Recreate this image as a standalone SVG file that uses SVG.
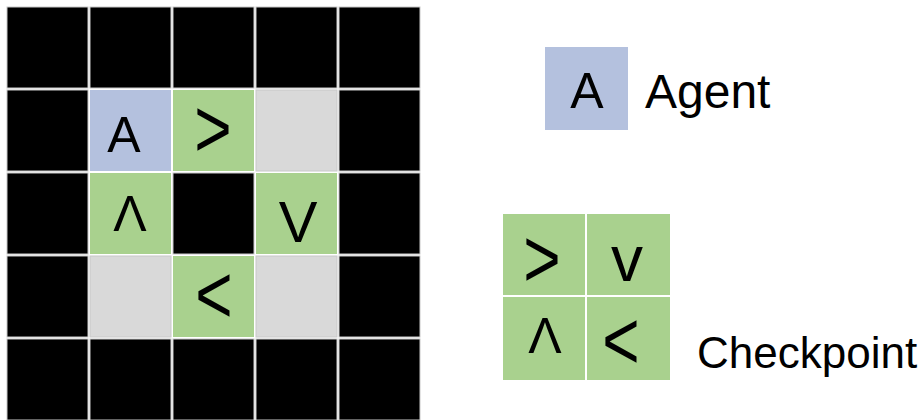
<svg xmlns="http://www.w3.org/2000/svg" width="920" height="420" viewBox="0 0 920 420">
<style>
.k{fill:#000}
.b{fill:#b4c1de}
.g{fill:#a9d18e}
.e{fill:#d9d9d9}
rect.c{stroke:#c8c8c8;stroke-width:1}
text{font-family:"Liberation Sans","DejaVu Sans",sans-serif;fill:#000;text-anchor:middle}
.s{font-size:64px;dominant-baseline:central}
.u{font-size:50px}
.lbl{font-size:48px;text-anchor:start}
</style>
<rect width="920" height="420" fill="#fff"/>
<g id="grid">
<rect class="c k" x="7" y="7" width="81" height="81"/>
<rect class="c k" x="90" y="7" width="81" height="81"/>
<rect class="c k" x="173" y="7" width="81" height="81"/>
<rect class="c k" x="256" y="7" width="81" height="81"/>
<rect class="c k" x="339" y="7" width="81" height="81"/>
<rect class="c k" x="7" y="90" width="81" height="81"/>
<rect class="c k" x="339" y="90" width="81" height="81"/>
<rect class="c k" x="7" y="173" width="81" height="81"/>
<rect class="c k" x="173" y="173" width="81" height="81"/>
<rect class="c k" x="339" y="173" width="81" height="81"/>
<rect class="c k" x="7" y="256" width="81" height="81"/>
<rect class="c k" x="339" y="256" width="81" height="81"/>
<rect class="c k" x="7" y="339" width="81" height="81"/>
<rect class="c k" x="90" y="339" width="81" height="81"/>
<rect class="c k" x="173" y="339" width="81" height="81"/>
<rect class="c k" x="256" y="339" width="81" height="81"/>
<rect class="c k" x="339" y="339" width="81" height="81"/>
<rect class="c e" x="256" y="90" width="81" height="81"/>
<rect class="c e" x="90" y="256" width="81" height="81"/>
<rect class="c e" x="256" y="256" width="81" height="81"/>
</g>
<g id="agent-cell">
<rect class="b" x="90" y="90" width="81" height="81"/>
<text x="124" y="152" style="font-size:50px">A</text>
</g>
<g id="cp-right">
<rect class="g" x="173" y="90" width="81" height="81"/>
<text class="s" transform="translate(213,128) scale(1,1.3)">&gt;</text>
</g>
<g id="cp-up">
<rect class="g" x="90" y="173" width="81" height="81"/>
<text class="u" x="130" y="231">Λ</text>
</g>
<g id="cp-down">
<rect class="g" x="256" y="173" width="81" height="81"/>
<text x="298" y="242" style="font-size:58px">V</text>
</g>
<g id="cp-left">
<rect class="g" x="173" y="256" width="81" height="81"/>
<text class="s" transform="translate(214,294) scale(1,1.3)">&lt;</text>
</g>
<g id="legend-agent">
<rect class="b" x="545" y="47" width="83" height="83"/>
<text x="587" y="108" style="font-size:50px">A</text>
<text class="lbl" x="645" y="108">Agent</text>
</g>
<g id="legend-checkpoint">
<rect class="g" x="503" y="214" width="82" height="81"/>
<rect class="g" x="587" y="214" width="83" height="81"/>
<rect class="g" x="503" y="297" width="82" height="83"/>
<rect class="g" x="587" y="297" width="83" height="83"/>
<text class="s" transform="translate(542,258) scale(1,1.3)">&gt;</text>
<text x="627" y="281" style="font-size:64px">v</text>
<text class="u" x="545" y="353">Λ</text>
<text class="s" transform="translate(621,340) scale(1,1.3)">&lt;</text>
<text class="lbl" x="697" y="368" style="font-size:44px">Checkpoint</text>
</g>
</svg>
